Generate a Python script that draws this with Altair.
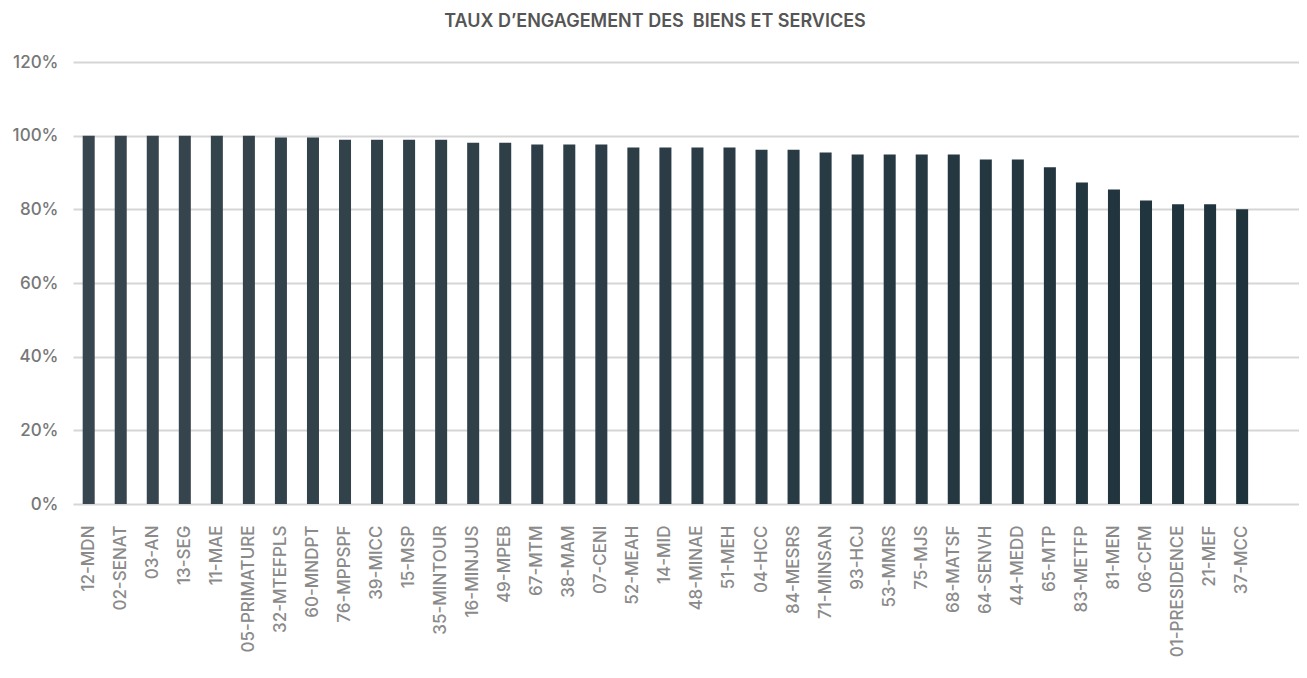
import altair as alt
import pandas as pd

categories = ["12-MDN", "02-SENAT", "03-AN", "13-SEG", "11-MAE", "05-PRIMATURE",
              "32-MTEFPLS", "60-MNDPT", "76-MPPSPF", "39-MICC", "15-MSP", "35-MINTOUR",
              "16-MINJUS", "49-MPEB", "67-MTM", "38-MAM", "07-CENI", "52-MEAH",
              "14-MID", "48-MINAE", "51-MEH", "04-HCC", "84-MESRS", "71-MINSAN",
              "93-HCJ", "53-MMRS", "75-MJS", "68-MATSF", "64-SENVH", "44-MEDD",
              "65-MTP", "83-METFP", "81-MEN", "06-CFM", "01-PRESIDENCE", "21-MEF", "37-MCC"]
rates = [1.000, 1.000, 1.000, 1.000, 1.000, 1.000,
         0.995, 0.995, 0.989, 0.989, 0.989, 0.989,
         0.981, 0.981, 0.976, 0.976, 0.976, 0.968,
         0.968, 0.968, 0.968, 0.962, 0.962, 0.954,
         0.949, 0.949, 0.949, 0.949, 0.935, 0.935,
         0.914, 0.873, 0.854, 0.824, 0.814, 0.814, 0.800]
y_ticks = [0, 0.2, 0.4, 0.6, 0.8, 1.0, 1.2]
title_text = "TAUX D\u2019ENGAGEMENT DES\u00a0 BIENS ET SERVICES"

df = pd.DataFrame({"cat": categories, "rate": rates, "idx": list(range(len(categories)))})

FONT = "Inter"

chart = alt.Chart(df).mark_bar().encode(
    x=alt.X("cat:N", sort=categories, title=None,
            scale=alt.Scale(paddingInner=0.625, paddingOuter=0.945, align=0.16),
            axis=alt.Axis(labelAngle=-90, labelAlign="right", labelBaseline="middle",
                          labelPadding=21, ticks=False, domain=False,
                          labelFont=FONT, labelFontSize=17, labelFontWeight=500,
                          labelColor="#8a8a8a")),
    y=alt.Y("rate:Q", title=None,
            scale=alt.Scale(domain=[0, 1.2], nice=False),
            axis=alt.Axis(values=y_ticks, format=".0%", ticks=False, domain=False,
                          grid=True, gridColor="#d6d6d6", gridWidth=2,
                          labelPadding=15, labelFont=FONT, labelFontSize=17,
                          labelFontWeight=500, labelColor="#777777")),
    color=alt.Color("idx:Q", scale=alt.Scale(range=["#37464f", "#1f333d"]), legend=None),
).properties(
    width=1226, height=442,
    autosize=alt.AutoSizeParams(type="none"),
    padding={"left": 65, "top": 54, "right": 0, "bottom": 166},
    title=alt.TitleParams(title_text, font=FONT, fontSize=18, fontWeight=600,
                          color="#555555", anchor="middle", frame="group",
                          dx=-31, dy=6, offset=28),
).configure_view(stroke=None)

chart.save("out.html", embed_options={"renderer": "svg", "actions": False})
